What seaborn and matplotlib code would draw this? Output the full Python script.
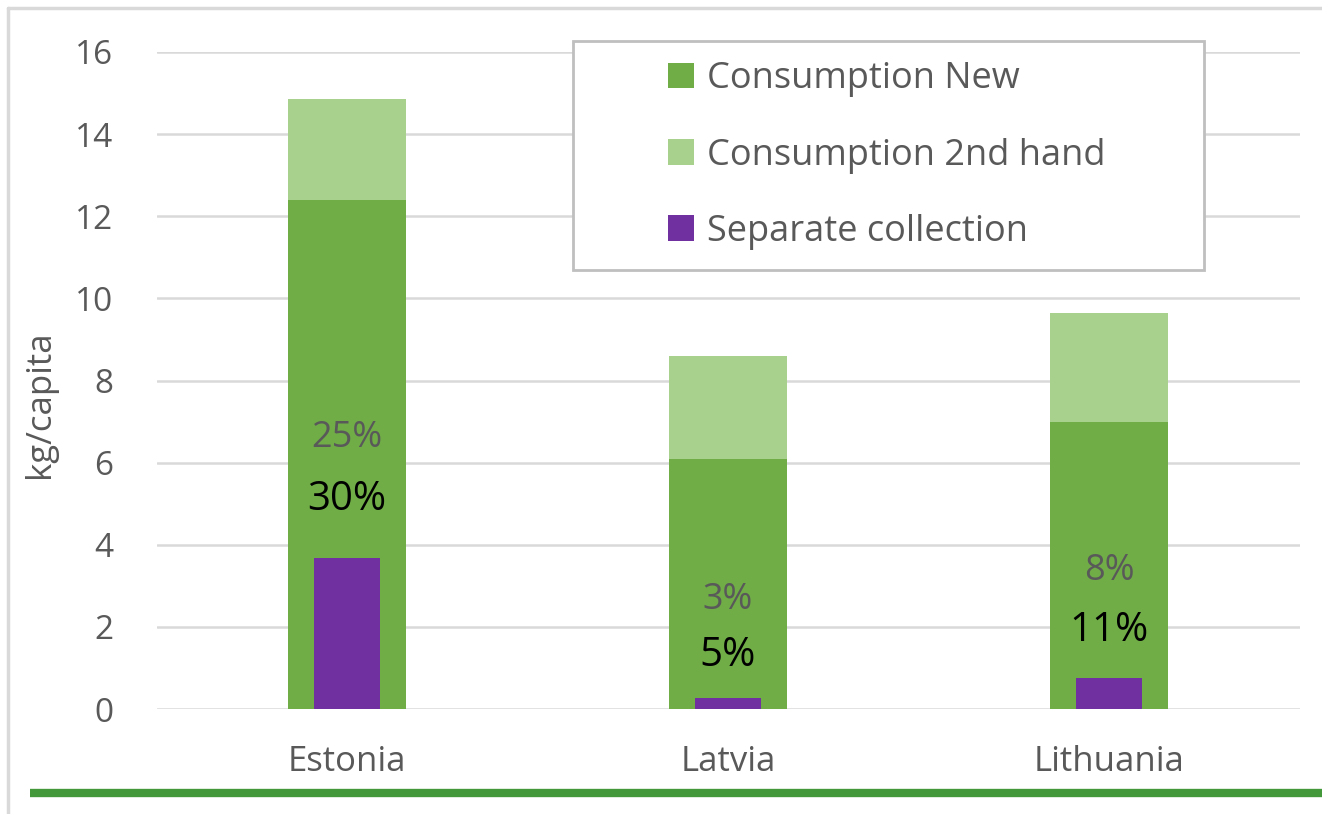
import matplotlib
matplotlib.use("Agg")
import matplotlib.pyplot as plt
from matplotlib.patches import Patch, Rectangle
from matplotlib.lines import Line2D
import seaborn as sns
import pandas as pd

countries = ["Estonia", "Latvia", "Lithuania"]
consumption_new = [12.4, 6.1, 7.0]
consumption_2nd = [2.45, 2.5, 2.65]
separate_collection = [3.68, 0.27, 0.75]
pct_grey = ["25%", "3%", "8%"]
pct_grey_y = [6.6, 2.65, 3.35]
pct_black = ["30%", "5%", "11%"]
pct_black_y = [5.1, 1.3, 1.9]
yticks = [0, 2, 4, 6, 8, 10, 12, 14, 16]

sns.set_theme(style="white")
plt.rcParams["font.family"] = ["Open Sans", "DejaVu Sans"]

C_NEW = "#70AD47"
C_2ND = "#A9D18E"
C_SEP = "#7030A0"
TXT = "#595959"

df = pd.DataFrame({
    "country": countries,
    "new": consumption_new,
    "total": [a + b for a, b in zip(consumption_new, consumption_2nd)],
    "sep": separate_collection,
})

fig = plt.figure(figsize=(13.22, 8.14), dpi=100)
ax = fig.add_axes([156.5 / 1322, 105 / 814, 1143 / 1322, 657 / 814])

kw = dict(saturation=1, ax=ax, linewidth=0, edgecolor="none")
sns.barplot(data=df, x="country", y="total", color=C_2ND, width=0.31, zorder=2, **kw)
sns.barplot(data=df, x="country", y="new", color=C_NEW, width=0.31, zorder=3, **kw)
sns.barplot(data=df, x="country", y="sep", color=C_SEP, width=0.175, zorder=4, **kw)

for i in range(len(countries)):
    ax.text(i, pct_grey_y[i], pct_grey[i], ha="center", va="center",
            fontsize=26, color=TXT, zorder=5)
    ax.text(i, pct_black_y[i], pct_black[i], ha="center", va="center",
            fontsize=29, color="black", zorder=5)

ax.set_ylim(0, 16)
ax.set_xlim(-0.5, 2.5)
ax.set_yticks(yticks)
ax.set_yticklabels([str(t) for t in yticks])
ax.yaxis.grid(True, color="#D9D9D9", linewidth=1.8)
ax.set_axisbelow(True)
for s in ax.spines.values():
    s.set_visible(False)
ax.tick_params(axis="y", length=0, labelsize=24, colors=TXT, pad=31)
ax.tick_params(axis="x", length=0, labelsize=25, colors=TXT, pad=26)
ax.set_xlabel("")
ax.set_ylabel("kg/capita", fontsize=25, color=TXT)
ax.yaxis.set_label_coords(-0.087, 0.464)

# legend frame
fig.patches.append(Rectangle((573 / 1322, 1 - 270 / 814), 631 / 1322, 229 / 814,
                             transform=fig.transFigure, facecolor="white",
                             edgecolor="#BFBFBF", linewidth=2, zorder=10))
handles = [Patch(facecolor=C_NEW, edgecolor="none"),
           Patch(facecolor=C_2ND, edgecolor="none"),
           Patch(facecolor=C_SEP, edgecolor="none")]
labels = ["Consumption New", "Consumption 2nd hand", "Separate collection"]
leg = fig.legend(handles, labels, loc="upper left",
                 bbox_to_anchor=(650 / 1322, 1 - 43 / 814), frameon=False,
                 fontsize=26, labelcolor=TXT, handlelength=0.72, handleheight=0.72,
                 handletextpad=0.35, labelspacing=1.12, borderpad=0)
leg.set_zorder(11)

# outer frame and green bottom line
fig.add_artist(Line2D([8 / 1322, 8 / 1322], [0, 1 - 8 / 814], transform=fig.transFigure,
                      color="#D9D9D9", linewidth=2.5))
fig.add_artist(Line2D([8 / 1322, 1], [1 - 8 / 814, 1 - 8 / 814], transform=fig.transFigure,
                      color="#D9D9D9", linewidth=2.5))
fig.add_artist(Line2D([30 / 1322, 1], [1 - 793 / 814, 1 - 793 / 814], transform=fig.transFigure,
                      color="#43993A", linewidth=6, solid_capstyle="butt"))

fig.savefig("out.png", dpi=100)
